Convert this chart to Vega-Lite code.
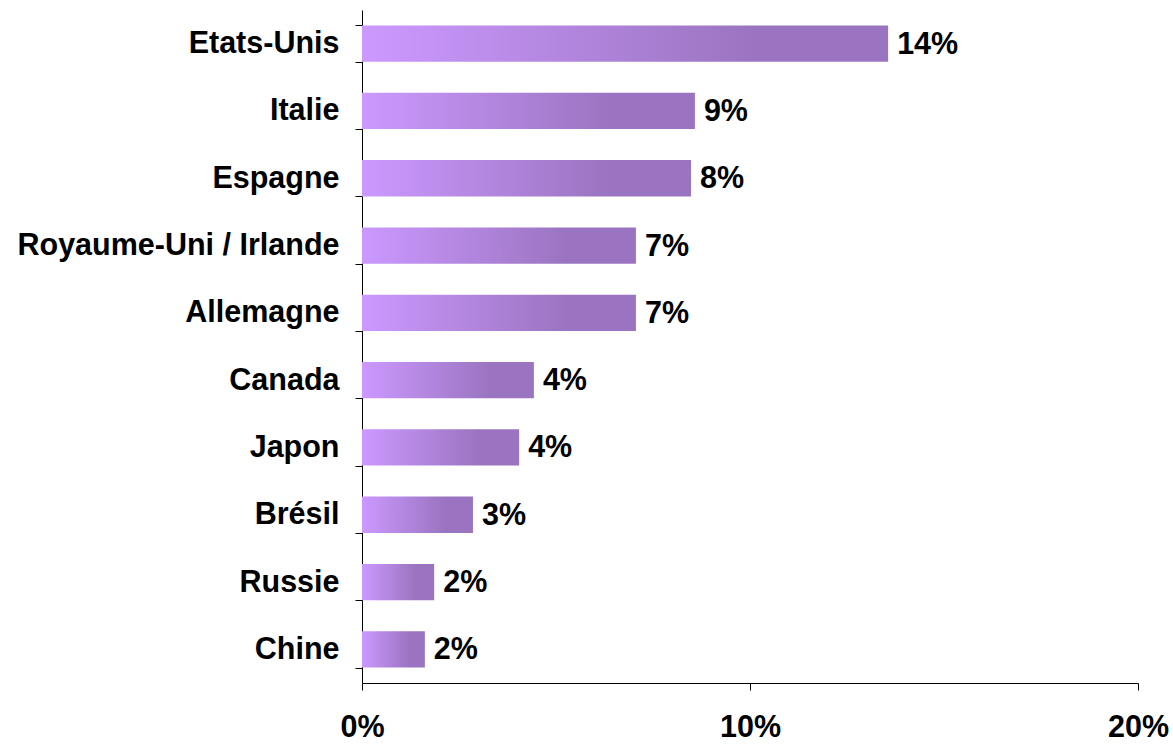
{
  "$schema": "https://vega.github.io/schema/vega-lite/v6.json",
  "width": 776,
  "height": 673,
  "autosize": {"type": "none"},
  "padding": {"left": 362, "top": 10, "right": 35, "bottom": 67},
  "background": "white",
  "config": {"view": {"stroke": null}, "font": "Liberation Sans"},
  "data": {"values": [
    {"pays": "Etats-Unis", "part": 0.1356},
    {"pays": "Italie", "part": 0.0858},
    {"pays": "Espagne", "part": 0.0848},
    {"pays": "Royaume-Uni / Irlande", "part": 0.0706},
    {"pays": "Allemagne", "part": 0.0706},
    {"pays": "Canada", "part": 0.0443},
    {"pays": "Japon", "part": 0.0405},
    {"pays": "Brésil", "part": 0.0286},
    {"pays": "Russie", "part": 0.0186},
    {"pays": "Chine", "part": 0.0162}
  ]},
  "encoding": {
    "y": {"field": "pays", "type": "nominal", "sort": null,
      "scale": {"paddingInner": 0.46, "paddingOuter": 0.23},
      "axis": {"title": null, "tickBand": "extent", "tickSize": 7, "tickColor": "black", "domainColor": "black",
        "labelFont": "Liberation Sans", "labelFontWeight": "bold", "labelFontSize": 30.5, "labelColor": "black", "labelPadding": 16, "labelLimit": 0}},
    "x": {"field": "part", "type": "quantitative",
      "scale": {"domain": [0, 0.2]},
      "axis": {"title": null, "values": [0, 0.1, 0.2], "format": ".0%", "grid": false, "tickSize": 7, "tickColor": "black", "domainColor": "black",
        "labelFont": "Liberation Sans", "labelFontWeight": "bold", "labelFontSize": 30.5, "labelColor": "black", "labelPadding": 22, "labelFlush": false}}
  },
  "layer": [
    {"mark": {"type": "bar", "color": {"gradient": "linear", "x1": 0, "x2": 1, "y1": 0, "y2": 0,
      "stops": [{"offset": 0, "color": "#cc99ff"}, {"offset": 0.75, "color": "#9a74c0"}, {"offset": 1, "color": "#9a74c0"}]}}},
    {"mark": {"type": "text", "align": "left", "dx": 9, "dy": 1, "font": "Liberation Sans", "fontWeight": "bold", "fontSize": 30.5, "color": "black"},
      "encoding": {"text": {"field": "part", "type": "quantitative", "format": ".0%"}}}
  ]
}
